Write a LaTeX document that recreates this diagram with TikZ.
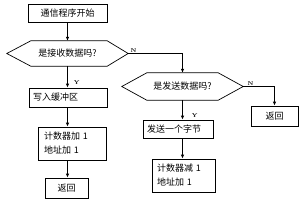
\documentclass[tikz,border=0pt]{standalone}
\usepackage{fontspec}
\newfontfamily\cjk{Noto Sans CJK SC}
\usetikzlibrary{arrows.meta,positioning}

\tikzset{
  box/.style={draw, line width=0.7pt, rectangle, inner sep=0pt, font=\cjk\fontsize{9}{14}\selectfont},
  decision/.style={rectangle, inner sep=0pt, font=\cjk\fontsize{9}{10}\selectfont},
  edge/.style={line width=0.7pt},
  flow/.style={line width=0.7pt, -{Latex[length=4pt,width=3.4pt]}},
  tag/.style={font=\bfseries\fontsize{5.5}{6}\selectfont, inner sep=1pt}
}

\begin{document}
\begin{tikzpicture}[x=1pt,y=-1pt]

\useasboundingbox (0,0) rectangle (300,201);

% Left column
\node[box, minimum width=79pt, minimum height=18pt] (start) at (67.5,13) {通信程序开始};
\node[decision, minimum width=121pt, minimum height=25pt] (askrx) at (67.5,53.5) {是接收数据吗?};
\node[box, minimum width=78pt, minimum height=19pt, text width=70pt, align=left] (write) at (68,97.5) {写入缓冲区};
\node[box, minimum width=68pt, minimum height=33pt, text width=56pt, align=left] (inc) at (72,143.5) {计数器加 1\\地址加 1};
\node[box, minimum width=43pt, minimum height=20pt] (retl) at (66.5,188) {返回};

% Right column
\node[decision, minimum width=121pt, minimum height=27pt] (asktx) at (182.5,86.5) {是发送数据吗?};
\node[box, minimum width=70pt, minimum height=18pt, text width=62pt, align=left] (send) at (178,129) {发送一个字节};
\node[box, minimum width=63pt, minimum height=33pt, text width=53pt, align=left] (dec) at (183.5,175.5) {计数器减 1\\地址加 1};
\node[box, minimum width=47pt, minimum height=20pt] (retr) at (274.5,116) {返回};

% Decision outlines (hexagons)
\draw[edge] (askrx.west) -- ([xshift=24pt]askrx.north west) -- ([xshift=-21pt]askrx.north east)
  -- (askrx.east) -- ([xshift=-21pt]askrx.south east) -- ([xshift=24pt]askrx.south west) -- cycle;
\draw[edge] (asktx.west) -- ([xshift=25pt]asktx.north west) -- ([xshift=-25pt]asktx.north east)
  -- (asktx.east) -- ([xshift=-25pt]asktx.south east) -- ([xshift=25pt]asktx.south west) -- cycle;

% Connectors
\draw[flow] (start) -- (askrx);
\draw[flow] (askrx) -- (write.north -| askrx.south)
  node[tag, pos=0.75, right=5pt] {Y};
\draw[flow] (write.south -| askrx.south) -- (inc.north -| askrx.south);
\draw[flow] (inc.south -| askrx.south) -- (retl.north -| askrx.south);
\draw[flow] (askrx.east) node[tag, above right=0pt and 1pt] {N} -| (asktx.north);
\draw[flow] (asktx) -- (send.north -| asktx.south)
  node[tag, pos=0.8, right=8pt] {Y};
\draw[flow] (send.south -| asktx.south) -- (dec.north -| asktx.south);
\draw[flow] (asktx.east) node[tag, above right=0pt and 3pt] {N} -| (retr.north);

\end{tikzpicture}
\end{document}
